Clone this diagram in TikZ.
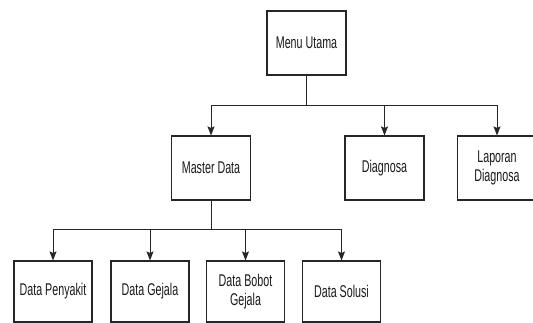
\documentclass[tikz,border=0pt]{standalone}
\usepackage{fontspec}
\setmainfont{Liberation Sans}[FakeStretch=0.63]
\usetikzlibrary{arrows.meta}
\begin{document}
\begin{tikzpicture}[x=1pt,y=-1pt,
  box/.style={draw=black!85, line width=1.1pt, minimum width=79pt, minimum height=64pt, inner sep=0pt, align=center, font=\fontsize{17}{18.5}\selectfont, text=black!90},
  lowbox/.style={box, minimum width=78pt, minimum height=61pt},
  line/.style={draw=black!85, line width=1pt},
  arr/.style={line, -{Stealth[length=9pt,width=7pt,inset=1.5pt]}}]
\useasboundingbox (0,0) rectangle (533,323);
\node[box] (menu) at (306.5,43) {Menu Utama};
\node[box] (master) at (211,168) {Master Data};
\node[box] (diag) at (384.5,168) {Diagnosa};
\node[box] (lap) at (497,168) {Laporan\\Diagnosa};
\node[lowbox] (dp) at (53,291.5) {Data Penyakit};
\node[lowbox] (dg) at (150,291.5) {Data Gejala};
\node[lowbox] (db) at (245.5,291.5) {Data Bobot\\Gejala};
\node[lowbox] (ds) at (341.5,291.5) {Data Solusi};
\coordinate (b1) at (306.5,106);
\coordinate (b2) at (211,230);
\draw[line] (menu) -- (b1);
\draw[arr] (b1) -| (master.north);
\draw[arr] (b1) -| (diag.north);
\draw[arr] (b1) -| (lap.north);
\draw[line] (master) -- (b2);
\draw[arr] (b2) -| (dp.north);
\draw[arr] (b2) -| (dg.north);
\draw[arr] (b2) -| (db.north);
\draw[arr] (b2) -| (ds.north);
\end{tikzpicture}
\end{document}
